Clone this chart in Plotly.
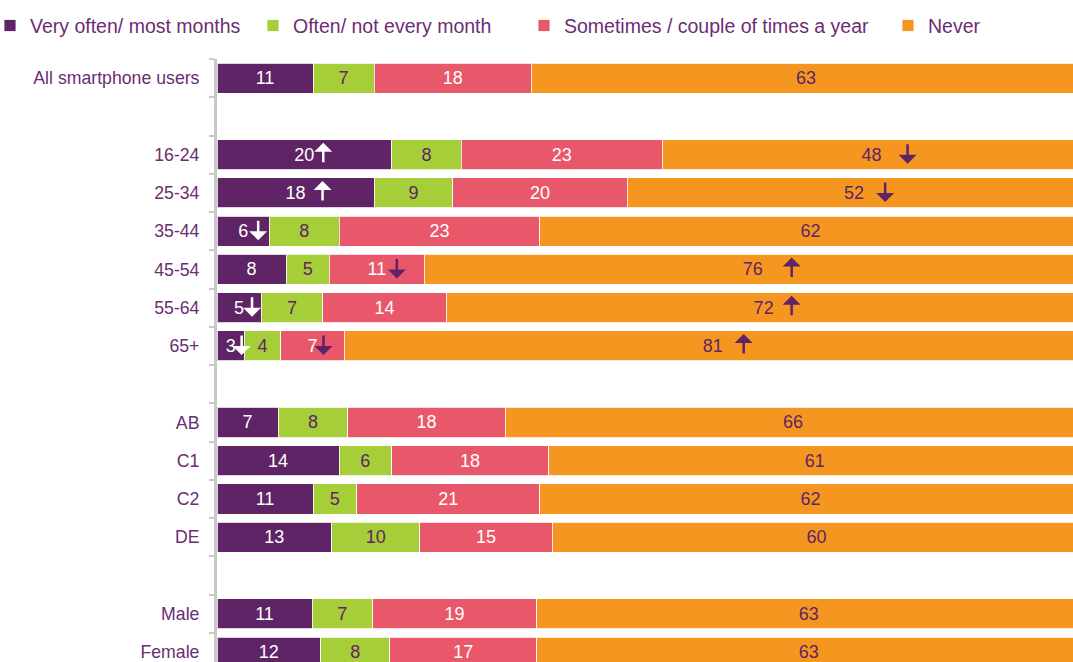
import plotly.graph_objects as go

categories = ["All smartphone users", " ", "16-24", "25-34", "35-44", "45-54", "55-64", "65+",
              "  ", "AB", "C1", "C2", "DE", "   ", "Male", "Female"]

very_often = [11, None, 20, 18, 6, 8, 5, 3, None, 7, 14, 11, 13, None, 11, 12]
often = [7, None, 8, 9, 8, 5, 7, 4, None, 8, 6, 5, 10, None, 7, 8]
sometimes = [18, None, 23, 20, 23, 11, 14, 7, None, 18, 18, 21, 15, None, 19, 17]
never = [63, None, 48, 52, 62, 76, 72, 81, None, 66, 61, 62, 60, None, 63, 63]

series_names = ["Very often/ most months", "Often/ not every month",
                "Sometimes / couple of times a year", "Never"]
series_values = [very_often, often, sometimes, never]
series_colors = ["#5f2466", "#a6ce39", "#e8586a", "#f59621"]
text_colors = ["#ffffff", "#5f2466", "#ffffff", "#5f2466"]
legend_widths = [218, 226, 319, None]

# significance arrows: (category, series index, direction)
arrows = [
    ("16-24", 0, "up"), ("16-24", 3, "down"),
    ("25-34", 0, "up"), ("25-34", 3, "down"),
    ("35-44", 0, "down"),
    ("45-54", 2, "down"), ("45-54", 3, "up"),
    ("55-64", 0, "down"), ("55-64", 3, "up"),
    ("65+", 0, "down"), ("65+", 2, "down"), ("65+", 3, "up"),
]
arrow_xshift = [19, 36, 27, 31, 15, 20, 39, 13, 28, 11, 11, 31]

FONT = "Liberation Sans, Arial, sans-serif"
LABEL = "#6b2d73"

fig = go.Figure()
for name, vals, col, tcol, lw in zip(series_names, series_values, series_colors,
                                      text_colors, legend_widths):
    fig.add_trace(go.Bar(
        name=name, y=categories, x=vals, orientation="h",
        marker=dict(color=col, line=dict(color="rgba(255,255,255,0.8)", width=1)),
        text=[("" if v is None else str(v)) for v in vals],
        textposition="inside", insidetextanchor="middle", textangle=0,
        insidetextfont=dict(family=FONT, size=18, color=tcol),
        constraintext="none", hoverinfo="skip",
        legendwidth=lw,
    ))

# arrow annotations positioned at segment centres (normalised to 100%)
for (cat, si, d), xs in zip(arrows, arrow_xshift):
    i = categories.index(cat)
    row = [series_values[k][i] for k in range(4)]
    tot = sum(row)
    cum = sum(row[:si]) / tot * 100
    centre = cum + row[si] / tot * 100 / 2
    col = "#ffffff" if si == 0 else "#5f2466"
    if d == "up":
        fig.add_annotation(x=centre, y=cat, xshift=xs, yshift=12, ax=0, ay=21,
                           text="", showarrow=True, arrowhead=1, arrowsize=1.2,
                           arrowwidth=2.5, arrowcolor=col, standoff=0)
    else:
        fig.add_annotation(x=centre, y=cat, xshift=xs, yshift=-9, ax=0, ay=-21,
                           text="", showarrow=True, arrowhead=1, arrowsize=1.2,
                           arrowwidth=2.5, arrowcolor=col, standoff=0)

fig.update_layout(
    width=1073, height=662,
    margin=dict(l=217, r=0, t=59, b=0, autoexpand=False),
    barmode="stack", barnorm="percent", bargap=0.215,
    plot_bgcolor="white", paper_bgcolor="white",
    font=dict(family=FONT, color=LABEL),
    legend=dict(orientation="h", x=-0.2652, xanchor="left",
                y=1.055, yanchor="middle",
                font=dict(family=FONT, size=19.5, color=LABEL), traceorder="normal",
                bgcolor="rgba(0,0,0,0)"),
    xaxis=dict(range=[0, 99.07], visible=False, fixedrange=True),
    yaxis=dict(range=[15.26, -0.5], type="category",
               categoryorder="array", categoryarray=categories,
               showline=True, linecolor="#c8c8c8", linewidth=3,
               ticks="outside", ticklen=5, tickwidth=2, tickcolor="#c8c8c8",
               tickson="boundaries", showgrid=False, zeroline=False,
               tickfont=dict(family=FONT, size=17.7, color=LABEL),
               ticklabelstandoff=11, fixedrange=True, automargin=False),
)

fig.write_html(
    "out.html",
    config={"displayModeBar": False},
    post_script="document.body.style.margin='0';document.body.style.overflow='hidden';",
)
